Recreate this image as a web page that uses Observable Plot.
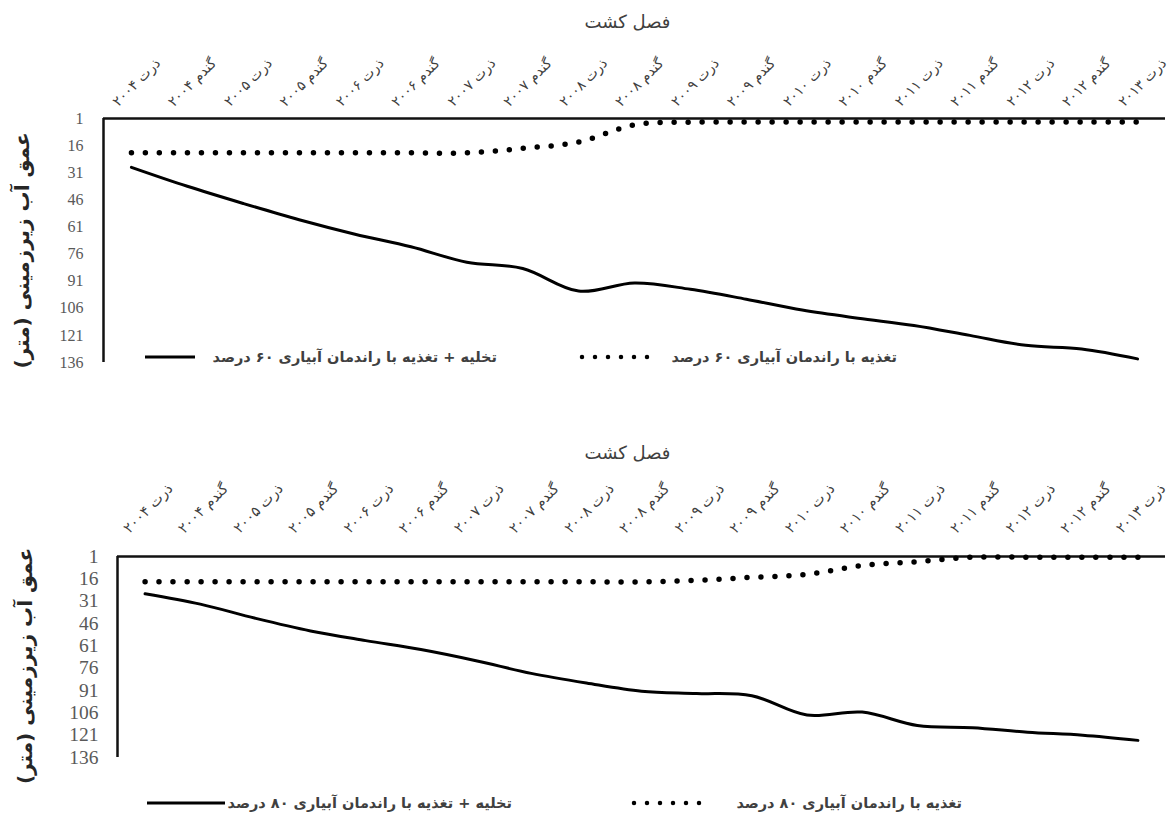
<!DOCTYPE html>
<html lang="fa">
<head>
<meta charset="utf-8">
<script src="https://cdn.jsdelivr.net/npm/d3@7"></script>
<script src="https://cdn.jsdelivr.net/npm/@observablehq/plot@0.6"></script>
<style>
  html, body { margin: 0; padding: 0; background: #fff; }
  #root { position: relative; width: 1169px; height: 821px; overflow: hidden; background: #fff; }
  .panel { position: absolute; left: 0; }
  .legend-text {
    position: absolute; font-family: "DejaVu Sans", sans-serif; font-weight: bold;
    color: #404040; white-space: nowrap; transform: translateY(-50%); line-height: 1;
  }
  .legend-swatch { position: absolute; overflow: visible; }
</style>
</head>
<body>
<div id="root"></div>
<script>
// Cropping seasons (corn / wheat, 2004–2013)
const categories = [
  "ذرت ۲۰۰۴", "گندم ۲۰۰۴", "ذرت ۲۰۰۵", "گندم ۲۰۰۵", "ذرت ۲۰۰۶", "گندم ۲۰۰۶",
  "ذرت ۲۰۰۷", "گندم ۲۰۰۷", "ذرت ۲۰۰۸", "گندم ۲۰۰۸", "ذرت ۲۰۰۹", "گندم ۲۰۰۹",
  "ذرت ۲۰۱۰", "گندم ۲۰۱۰", "ذرت ۲۰۱۱", "گندم ۲۰۱۱", "ذرت ۲۰۱۲", "گندم ۲۰۱۲",
  "ذرت ۲۰۱۳"
];

// Depth axis ticks (m)
const yTicks = [1, 16, 31, 46, 61, 76, 91, 106, 121, 136];

// Groundwater depth, 60% irrigation efficiency
const drain60 = [28, 38.5, 48, 57, 65, 72, 80.5, 84, 96.5, 92, 95.5, 101, 107, 111.5, 115.5, 121, 126.5, 128.5, 134];
const recharge60 = [20, 20, 20, 20, 20, 20, 20, 17.5, 14, 4.5, 3, 3, 3, 3, 3, 3, 3, 3, 3];

// Groundwater depth, 80% irrigation efficiency
const drain80 = [26, 33, 42.5, 51, 57.5, 63.5, 71, 79.5, 86, 91.5, 93, 94.5, 107.5, 105.5, 114.5, 116, 119, 121, 124.5];
const recharge80 = [18, 18, 18, 18, 18, 18, 18, 18, 18, 18, 17, 15, 13, 7, 4.5, 1.5, 1.5, 1.5, 1.5];

const seasonTitle = "فصل کشت";
const depthTitle = "عمق آب زیرزمینی (متر)";
const legend60 = ["تخلیه + تغذیه با راندمان آبیاری ۶۰ درصد", "تغذیه با راندمان آبیاری ۶۰ درصد"];
const legend80 = ["تخلیه + تغذیه با راندمان آبیاری ۸۰ درصد", "تغذیه با راندمان آبیاری ۸۰ درصد"];

const W = 1169;
const root = document.getElementById("root");

function panel(cfg) {
  const rows = categories.map((c, i) => ({i, c, drain: cfg.drain[i], recharge: cfg.recharge[i]}));
  return Plot.plot({
    width: W,
    height: cfg.height,
    marginTop: cfg.marginTop,
    marginBottom: cfg.marginBottom,
    marginLeft: cfg.marginLeft,
    marginRight: 4,
    style: {background: "#fff"},
    x: {domain: [-0.5, categories.length - 0.5], axis: null},
    y: {domain: [1, 136], reverse: true},
    marks: [
      Plot.axisY({
        ticks: yTicks, tickSize: 0, tickPadding: cfg.tickPadding, label: null,
        fontSize: cfg.tickFont, fontFamily: "Liberation Serif", fill: "#595959"
      }),
      Plot.ruleY([yTicks[0]], {stroke: "#111", strokeWidth: 2.5}),
      Plot.ruleX([-0.5], {stroke: "#111", strokeWidth: 2.5}),
      Plot.line(rows, {
        x: "i", y: "recharge", curve: "catmull-rom", stroke: "#000",
        strokeWidth: 5.5, strokeDasharray: "0 14", strokeLinecap: "round"
      }),
      Plot.line(rows, {x: "i", y: "drain", curve: "catmull-rom", stroke: "#000", strokeWidth: 3}),
      Plot.text(rows, {
        x: "i", y: () => yTicks[0], text: "c", rotate: -45, textAnchor: "middle", lineAnchor: "middle",
        dx: cfg.labelDx, dy: cfg.labelDy, fontSize: cfg.labelFont,
        fontFamily: "DejaVu Sans", fill: "#404040"
      }),
      Plot.text([seasonTitle], {
        frameAnchor: "top", textAnchor: "middle", lineAnchor: "middle",
        dx: cfg.titleDx, dy: cfg.titleDy, fontSize: 18, fontFamily: "DejaVu Sans", fill: "#404040"
      }),
      Plot.text([depthTitle], {
        frameAnchor: "left", textAnchor: "middle", lineAnchor: "middle", rotate: -90,
        dx: cfg.axisTitleDx, dy: cfg.axisTitleDy, fontSize: 20, fontWeight: "bold",
        fontFamily: "DejaVu Sans", fill: "#262626"
      })
    ]
  });
}

function addPanel(svg, top) {
  const wrap = document.createElement("div");
  wrap.className = "panel";
  wrap.style.top = top + "px";
  wrap.appendChild(svg);
  root.appendChild(wrap);
}

function swatch(x1, x2, y, dotted) {
  const ns = "http://www.w3.org/2000/svg";
  const s = document.createElementNS(ns, "svg");
  s.setAttribute("class", "legend-swatch");
  s.setAttribute("width", x2 - x1 + 6);
  s.setAttribute("height", 10);
  s.style.left = (x1 - 3) + "px";
  s.style.top = (y - 5) + "px";
  const l = document.createElementNS(ns, "line");
  l.setAttribute("x1", 3); l.setAttribute("x2", x2 - x1 + 3);
  l.setAttribute("y1", 5); l.setAttribute("y2", 5);
  l.setAttribute("stroke", "#000");
  if (dotted) {
    l.setAttribute("stroke-width", 4.5);
    l.setAttribute("stroke-dasharray", "0 13");
    l.setAttribute("stroke-linecap", "round");
  } else {
    l.setAttribute("stroke-width", 3);
  }
  s.appendChild(l);
  root.appendChild(s);
}

function legendText(text, right, y, size) {
  const d = document.createElement("div");
  d.className = "legend-text";
  d.textContent = text;
  d.dir = "rtl";
  d.style.right = (W - right) + "px";
  d.style.top = y + "px";
  d.style.fontSize = size + "px";
  root.appendChild(d);
}

// Upper panel: 60% efficiency
addPanel(panel({
  drain: drain60, recharge: recharge60, height: 410,
  marginTop: 118, marginBottom: 48, marginLeft: 103,
  tickFont: 16, tickPadding: 20,
  labelFont: 14, labelDx: 5, labelDy: -36,
  titleDx: -7, titleDy: -96,
  axisTitleDx: -81, axisTitleDy: 10
}), 0);

// Lower panel: 80% efficiency
addPanel(panel({
  drain: drain80, recharge: recharge80, height: 411,
  marginTop: 146, marginBottom: 64, marginLeft: 117,
  tickFont: 19.5, tickPadding: 19,
  labelFont: 14.5, labelDx: 3, labelDy: -48,
  titleDx: -14, titleDy: -103,
  axisTitleDx: -92, axisTitleDy: 9
}), 410);

// Legends
swatch(145, 195, 357, false);
legendText(legend60[0], 497, 357, 14.5);
swatch(582, 650, 357, true);
legendText(legend60[1], 897, 357, 14.5);

swatch(147, 225, 803, false);
legendText(legend80[0], 512, 803, 14.5);
swatch(634, 712, 803, true);
legendText(legend80[1], 962, 803, 14.5);
</script>
</body>
</html>
